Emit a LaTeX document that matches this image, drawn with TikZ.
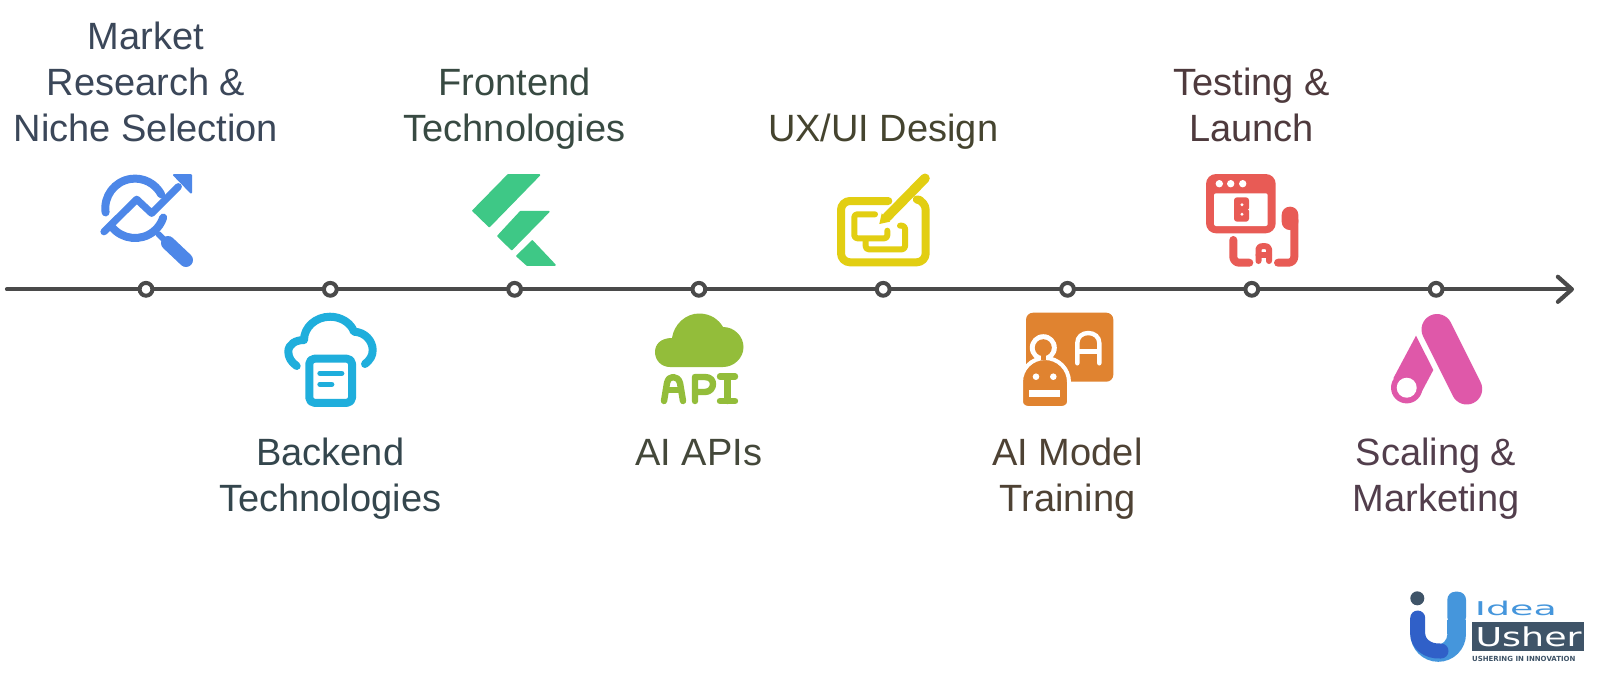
\documentclass[tikz,border=0pt]{standalone}
\usepackage{fontspec}
\setmainfont{Liberation Sans}
\newfontfamily\logofont{DejaVu Sans}
\usetikzlibrary{arrows.meta}
\definecolor{cLine}{HTML}{4A4A4A}
\definecolor{cBlue}{HTML}{4D87E8}
\definecolor{cCyan}{HTML}{1FAEDC}
\definecolor{cGreen}{HTML}{3EC886}
\definecolor{cLime}{HTML}{93BD3A}
\definecolor{cYellow}{HTML}{E2CE12}
\definecolor{cOrange}{HTML}{E08330}
\definecolor{cRed}{HTML}{E85B55}
\definecolor{cPink}{HTML}{DF58A9}
\definecolor{cLogoDark}{HTML}{3F5468}
\definecolor{cLogoBlue}{HTML}{4596DC}
\definecolor{cLogoDeep}{HTML}{3060C8}
\definecolor{tA}{HTML}{3B4759}
\definecolor{tB}{HTML}{34464D}
\definecolor{tC}{HTML}{384A42}
\definecolor{tD}{HTML}{44483A}
\definecolor{tE}{HTML}{45442F}
\definecolor{tF}{HTML}{4E4234}
\definecolor{tG}{HTML}{4E3A3D}
\definecolor{tH}{HTML}{523E4C}
\tikzset{
  x=0.5pt,y=-0.5pt,
  label text/.style={anchor=base,align=center,inner sep=0pt,outer sep=0pt,
    font=\fontsize{19}{23}\selectfont},
  marker/.style={circle,draw=cLine,fill=white,line width=2pt,inner sep=0pt,minimum size=6.4pt},
  axis/.style={draw=cLine,line width=2.1pt,line cap=round,
    -{Straight Barb[length=7pt,width=12.5pt,line width=2.1pt,round]}},
  iconline/.style={line cap=round,line join=round},
}
\begin{document}
\begin{tikzpicture}
\useasboundingbox (0,0) rectangle (1600,676);
\fill[white] (0,0) rectangle (1600,676);

% ---- timeline
\coordinate (start) at (7,289.3);
\coordinate (end) at (1574,289.3);
\draw[axis] (start) -- (end);
\foreach \n/\xx in {1/146,2/330.3,3/514.6,4/698.9,5/883.2,6/1067.5,7/1251.8,8/1436.1}
  \node[marker] (m\n) at (\xx,289.3) {};

% ---- labels (anchor=base is the baseline of the last line)
\node[label text,text=tA] (t1) at (146,141.5) {Market\\Research \&\\Niche Selection};
\node[label text,text=tB] (t2) at (330.3,511) {Backend\\Technologies};
\node[label text,text=tC] (t3) at (514.6,141.5) {Frontend\\Technologies};
\node[label text,text=tD] (t4) at (698.9,465) {AI APIs};
\node[label text,text=tE] (t5) at (883.2,141.5) {UX/UI Design};
\node[label text,text=tF] (t6) at (1067.5,511) {AI Model\\Training};
\node[label text,text=tG] (t7) at (1251.8,141.5) {Testing \&\\Launch};
\node[label text,text=tH] (t8) at (1436.1,511) {Scaling \&\\Marketing};

% ---- icon 1: magnifier with trend
\begin{scope}[iconline,draw=cBlue,fill=cBlue]
\draw[line width=4pt] ([shift={(135,208.3)}]172:29.7) arc[start angle=172,end angle=332,radius=29.7];
\draw[line width=4pt] ([shift={(135,208.3)}]141:29.7) arc[start angle=141,end angle=18,radius=29.7];
\draw[line width=3.6pt] (104,231.7) -- (136.7,199.3) -- (151.7,213.3) -- (178.3,186.7);
\filldraw[line width=1pt] (174,175) -- (191,175) -- (191,192.5) -- cycle;
\draw[line width=3pt] (158.3,234) -- (167.3,242.7);
\draw[line width=7pt] (168,243) -- (186,260);
\end{scope}

% ---- icon 2: cloud with document
\begin{scope}[iconline,draw=cCyan]
\draw[line width=4pt] (296.7,366) .. controls (291,362) and (288.3,357) .. (288.3,351.7)
  .. controls (288.3,344) and (296,340) .. (304,340)
  .. controls (304,327) and (316,316.7) .. (330,316.7)
  .. controls (341,316.7) and (351,323) .. (354,331.7)
  .. controls (365,332) and (372.7,341) .. (372.7,350)
  .. controls (372.7,356) and (370,360) .. (365,364);
\draw[line width=4pt,rounded corners=2.5pt] (309.3,358.7) rectangle (352,402.8);
\draw[line width=2.7pt] (320,373.3) -- (341.7,373.3);
\draw[line width=2.7pt] (320,384.3) -- (331.7,384.3);
\end{scope}

% ---- icon 3: flutter mark
\begin{scope}[fill=cGreen,draw=cGreen,line width=.8pt,line join=round]
\filldraw (508,175) -- (539.5,175) -- (489.3,226.5) -- (473,210.7) -- cycle;
\filldraw (520.5,211.7) -- (548.8,211.7) -- (511.7,249.5) -- (498,236) -- cycle;
\filldraw (532.3,241) -- (555,265) -- (527,265) -- (517,256) -- cycle;
\end{scope}

% ---- icon 4: API cloud
\fill[cLime] (670,367) .. controls (661,367) and (655,360) .. (655,352)
  .. controls (655,344) and (661,338) .. (672,338)
  .. controls (674,324) and (686,313.5) .. (699,313.5)
  .. controls (711,313.5) and (719,320) .. (723,327)
  .. controls (735,327) and (743.5,337) .. (743.5,347)
  .. controls (743.5,358) and (734,367) .. (723,367) -- cycle;
\begin{scope}[iconline,draw=cLime,line width=3.2pt]
\draw (664,401) -- (667,383) .. controls (668,379) and (670,377) .. (673,377)
  .. controls (676,377) and (679,379) .. (680,383) -- (683,401);
\draw (666,390) -- (681,390);
\draw (695,401) -- (695,377) -- (705,377) .. controls (711,377) and (713,381) .. (713,384)
  .. controls (713,388) and (710,392) .. (705,392) -- (695,392);
\draw (720,376.5) -- (735,376.5);
\draw (720,401) -- (735,401);
\draw (727.5,376.5) -- (727.5,401);
\end{scope}

% ---- icon 5: design pen
\begin{scope}[iconline,draw=cYellow,fill=cYellow]
\draw[line width=4pt,rounded corners=4.5pt] (888.3,201) -- (841,201) -- (841,262.3) -- (925.7,262.3) -- (925.7,201) -- (920,200);
\draw[line width=4.8pt] (925,178.3) -- (887,217);
\fill (881.7,213.3) -- (890,221.7) -- (879.3,224) -- cycle;
\draw[line width=3pt,rounded corners=1.5pt] (875,214.3) -- (854.3,214.3) -- (854.3,238.3) -- (887.3,238.3) -- (887.3,230.7);
\draw[line width=3pt,rounded corners=1.5pt] (865.7,240) -- (865.7,249.3) -- (905,249.3) -- (905,225.7) -- (900,225.7);
\end{scope}

% ---- icon 6: robot and letter
\fill[cOrange,rounded corners=3.5pt] (1026,312.7) rectangle (1113.3,381.7);
\draw[white,line width=2.2pt,line cap=round] (1077.3,363.3) -- (1077.3,343) .. controls (1077.3,337) and (1082,333) .. (1088.3,333)
  .. controls (1094.5,333) and (1099.3,337) .. (1099.3,343) -- (1099.3,363.3);
\draw[white,line width=2.2pt] (1077.3,351.5) -- (1099.3,351.5);
\fill[white] (1043.3,347.7) circle (13.5);
\fill[cOrange] (1043.3,347.7) circle (8.5);
\filldraw[draw=white,fill=cOrange,line width=2pt] (1021,382) arc[start angle=180,end angle=360,radius=24]
  -- (1069,402) .. controls (1069,405) and (1066,408) .. (1062,408) -- (1028,408)
  .. controls (1024,408) and (1021,405) .. (1021,402) -- cycle;
\fill[cOrange] (1040.8,354) rectangle (1045.8,360);
\fill[white] (1036,376.7) circle (3.3);
\fill[white] (1053.3,376.7) circle (3.3);
\fill[white] (1029.3,390) rectangle (1060,396.7);

% ---- icon 7: A/B test
\fill[cRed,rounded corners=5pt] (1206,174) rectangle (1275.7,233.3);
\fill[white,rounded corners=1pt] (1214,193.3) rectangle (1267.7,226);
\foreach \xx in {1219.3,1230.7,1242.7} \fill[white] (\xx,183.7) circle (3.7);
\fill[cRed,rounded corners=1.5pt] (1234,197.3) rectangle (1249,221.7);
\fill[white] (1242,204.8) circle (1.6);
\fill[white] (1242,214.2) circle (1.6);
\fill[white] (1250,209.5) circle (1.8);
\begin{scope}[iconline,draw=cRed,fill=cRed]
\fill[rounded corners=4pt] (1281.7,206.7) -- (1298.3,206.7) -- (1298.3,230) -- (1281.7,230) -- cycle;
\draw[line width=4pt,rounded corners=3pt] (1278,262.7) -- (1294.3,262.7) -- (1294.3,220);
\draw[line width=4pt,rounded corners=3pt] (1233.3,240) -- (1233.3,262.7) -- (1249.3,262.7);
\draw[line width=3pt] (1258.5,261) -- (1258.5,249) .. controls (1258.5,246.5) and (1261,246) .. (1263.7,246)
  .. controls (1266.5,246) and (1269,246.5) .. (1269,249) -- (1269,261);
\draw[line width=3pt] (1258.5,255) -- (1269,255);
\end{scope}

% ---- icon 8: ads mark
\draw[cPink,line width=15.5pt,line cap=round] (1437,329.5) -- (1466.7,389);
\fill[cPink] (1416,335.7) -- (1433.3,370) -- (1420,395) -- (1393.3,378.3) -- cycle;
\fill[cPink] (1406.7,387.7) circle (15.7);
\fill[white] (1406.7,387.7) circle (10);

% ---- logo
\fill[cLogoDark] (1417.3,598.3) circle (7);
\fill[cLogoBlue,rounded corners=4pt] (1447.3,591.7) rectangle (1466,625);
\fill[cLogoBlue] (1447.3,620) rectangle (1466,634);
\fill[cLogoBlue] (1466,634) arc[start angle=0,end angle=180,radius=27.8]
  -- (1425,634) arc[start angle=180,end angle=0,radius=11.2] -- cycle;
\draw[cLogoDeep,line width=7.5pt,line cap=round] (1417.7,618) -- (1417.7,634)
  .. controls (1417.7,643) and (1427,652) .. (1441,651);
\fill[cLogoDark] (1471.7,621.7) rectangle (1584,650.7);
\node[inner sep=0pt,anchor=base west,text=cLogoBlue,xscale=2,font=\logofont\fontsize{9.5}{11}\selectfont] (lg1) at (1474,615.5) {Idea};
\node[inner sep=0pt,anchor=base west,text=white,xscale=1.4,font=\logofont\fontsize{13}{15}\selectfont] (lg2) at (1475,646) {Usher};
\node[inner sep=0pt,anchor=base west,text=cLogoDark,font=\logofont\bfseries\fontsize{3.5}{5}\selectfont] (lg3) at (1471.7,661) {USHERING IN INNOVATION};
\end{tikzpicture}
\end{document}
